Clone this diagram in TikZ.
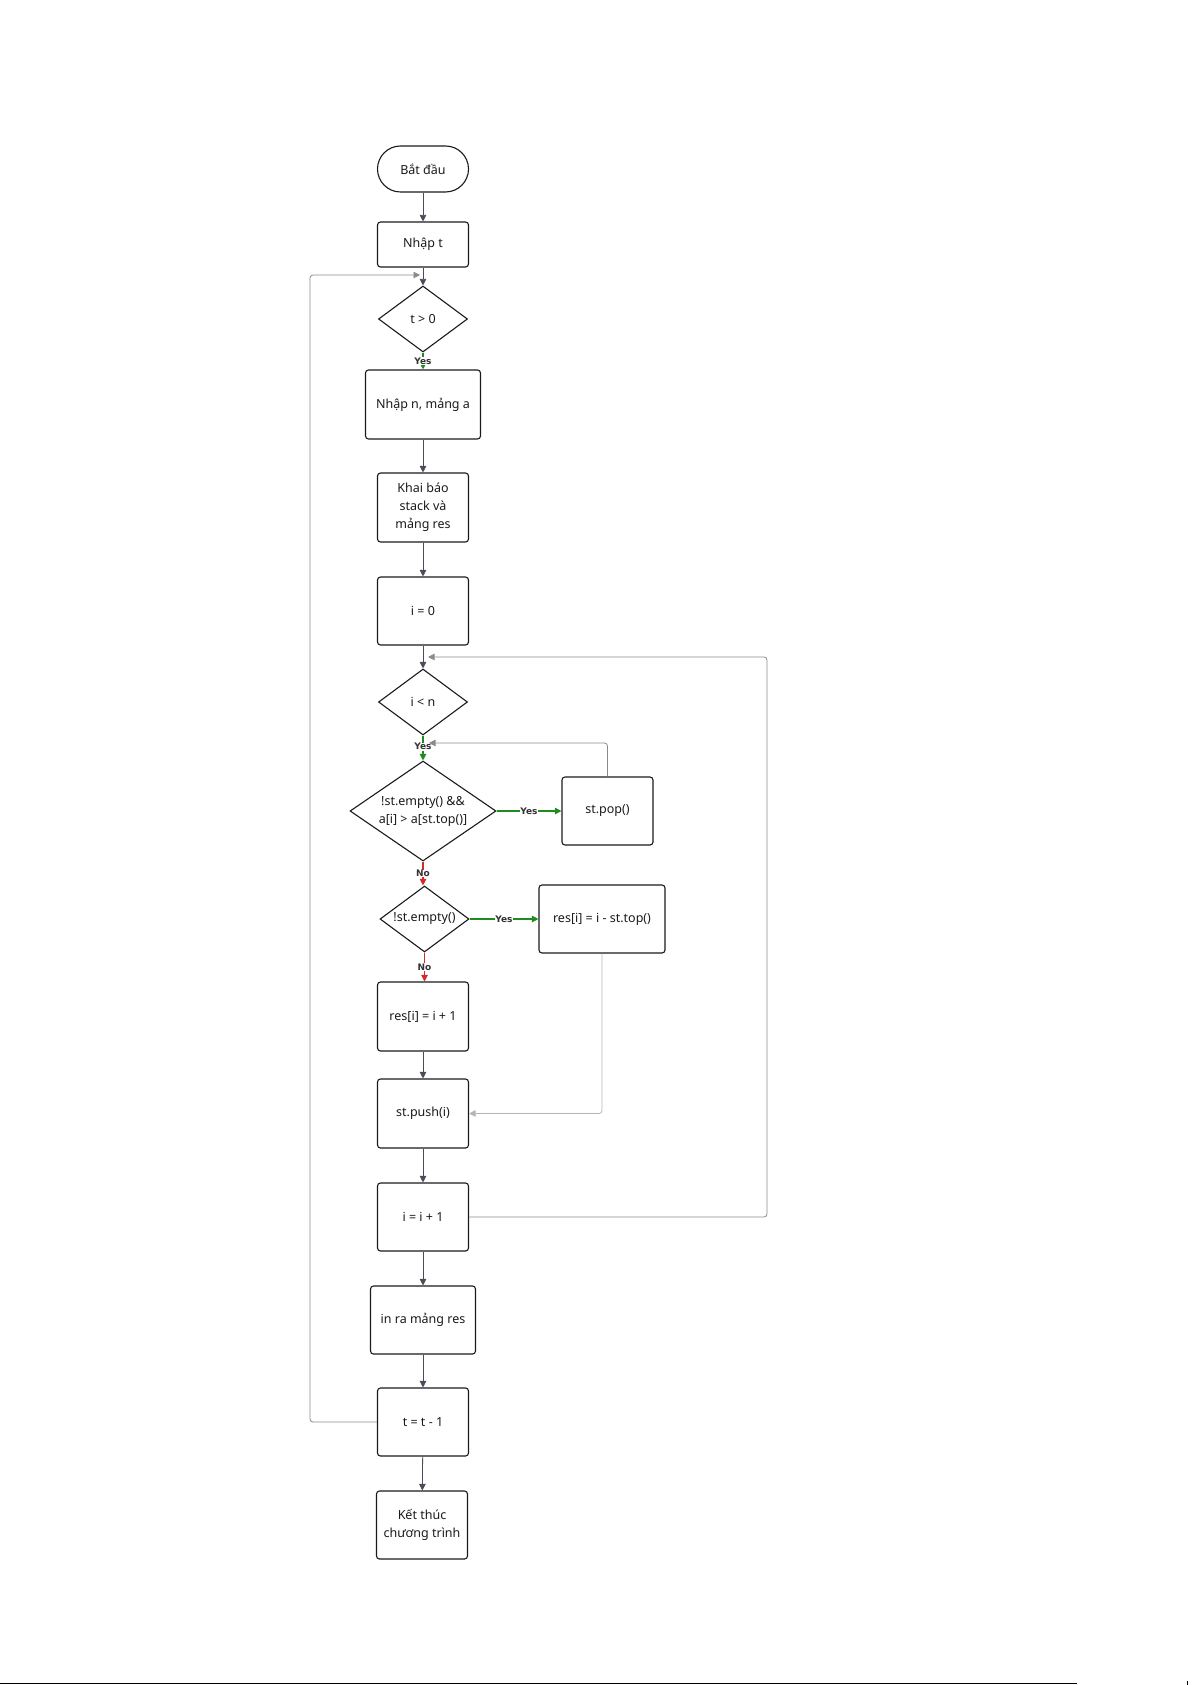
\documentclass[tikz,border=0pt]{standalone}
\usepackage{fontspec}
\setmainfont{Noto Sans}
\newfontfamily\lblfont{DejaVu Sans}
\usetikzlibrary{shapes.geometric,arrows.meta,positioning}
\definecolor{boxline}{HTML}{1A1A1A}
\definecolor{arrowc}{HTML}{4A4D57}
\definecolor{loopc}{HTML}{8A8A8A}
\definecolor{lightloop}{HTML}{B4B4B4}
\definecolor{yesc}{HTML}{1E8C1E}
\definecolor{noc}{HTML}{D42A2A}
\definecolor{lblc}{HTML}{333333}
\begin{document}
\begin{tikzpicture}[x=1pt,y=-1pt,
  every node/.style={font=\fontsize{12.5}{18}\selectfont, text=boxline},
  procbox/.style={draw=boxline, line width=1.1pt, rounded corners=3pt, minimum width=#1, minimum height=68pt, inner sep=2pt, align=center},
  procbox/.default=91pt,
  termbox/.style={draw=boxline, line width=1.1pt, rounded corners=23pt, minimum width=91pt, minimum height=46pt, align=center},
  decbox/.style={draw=boxline, line width=1.1pt, diamond, aspect=1.35, inner sep=0pt, minimum width=#1, align=center},
  decbox/.default=89pt,
  flow/.style={draw=arrowc, line width=0.8pt, -{Triangle[width=6.5pt,length=6.5pt]}},
  yesflow/.style={draw=yesc, line width=1.1pt, -{Triangle[width=6.5pt,length=6.5pt]}},
  noflow/.style={draw=noc, line width=1.1pt, -{Triangle[width=6.5pt,length=6.5pt]}},
  loopflow/.style={draw=loopc, line width=0.8pt, rounded corners=3pt, -{Triangle[width=6.5pt,length=6.5pt]}},
  lightflow/.style={draw=lightloop, line width=0.8pt, rounded corners=3pt, -{Triangle[width=6.5pt,length=6.5pt]}},
  lbl/.style={font=\lblfont\bfseries\fontsize{9}{10}\selectfont, text=lblc, fill=white, inner sep=0.6pt}
]
\useasboundingbox (0,0) rectangle (1192,1685);

% nodes
\node[termbox] (start) at (423,169) {Bắt đầu};
\node[procbox, minimum height=45pt] (nhapt) at (423,244.5) {Nhập t};
\node[decbox, minimum height=66pt] (d1) at (423,319) {t > 0};
\node[procbox=115pt, minimum height=69pt] (nhapn) at (423,404.5) {Nhập n, mảng a};
\node[procbox, minimum height=69pt] (khai) at (423,507.5) {Khai báo\\stack và\\mảng res};
\node[procbox] (i0) at (423,611) {i = 0};
\node[decbox, minimum height=66pt] (d2) at (423,702) {i < n};
\node[decbox=146pt, minimum height=100pt] (d3) at (423,811) {!st.empty() \&\&\\a[i] > a[st.top()]};
\node[procbox] (pop) at (607.5,811) {st.pop()};
\node[decbox, minimum height=66pt] (d4) at (424.5,919) {!st.empty()};
\node[procbox=126pt] (resmin) at (602,919) {res[i] = i - st.top()};
\node[procbox, minimum height=69pt] (resplus) at (423,1016.5) {res[i] = i + 1};
\node[procbox, minimum height=69pt] (push) at (423,1113.5) {st.push(i)};
\node[procbox] (inc) at (423,1217) {i = i + 1};
\node[procbox=105pt] (print) at (423,1320) {in ra mảng res};
\node[procbox] (dec) at (423,1422) {t = t - 1};
\node[procbox] (end) at (422,1525) {Kết thúc\\chương trình};

% loop coordinates
\coordinate (tjoin) at (420,275);
\coordinate (ijoin) at (428,657);
\coordinate (popjoin) at (429,743);

% straight flows
\draw[flow] (start) -- (nhapt);
\draw[flow] (nhapt) -- (d1);
\draw[yesflow] (d1) -- (nhapn) node[lbl, midway] {Yes};
\draw[flow] (nhapn) -- (khai);
\draw[flow] (khai) -- (i0);
\draw[flow] (i0) -- (d2);
\draw[yesflow] (d2) -- (d3) node[lbl, pos=0.45] {Yes};
\draw[yesflow] (d3) -- (pop) node[lbl, midway] {Yes};
\draw[noflow] (d3.south) -- (d3.south |- d4.north) node[lbl, midway] {No};
\draw[yesflow] (d4) -- (resmin) node[lbl, midway] {Yes};
\draw[noflow] (d4.south) -- (d4.south |- resplus.north) node[lbl, midway] {No};
\draw[flow] (resplus) -- (push);
\draw[flow] (push) -- (inc);
\draw[flow] (inc) -- (print);
\draw[flow] (print) -- (dec);
\draw[flow] (dec) -- (end);

% loops
\draw[loopflow] (pop.north) |- (popjoin);
\draw[lightflow] (resmin.south) |- (push.east);
\draw[loopflow] (inc.east) -| (767,657) -- (ijoin);
\draw[loopflow] (dec.west) -| (310,275) -- (tjoin);

% page footer rule
\draw[line width=1.3pt, black] (0,1683.5) -- (1077,1683.5);
\draw[line width=0.8pt, black] (1187,1681) -- (1187,1685);
\end{tikzpicture}
\end{document}
